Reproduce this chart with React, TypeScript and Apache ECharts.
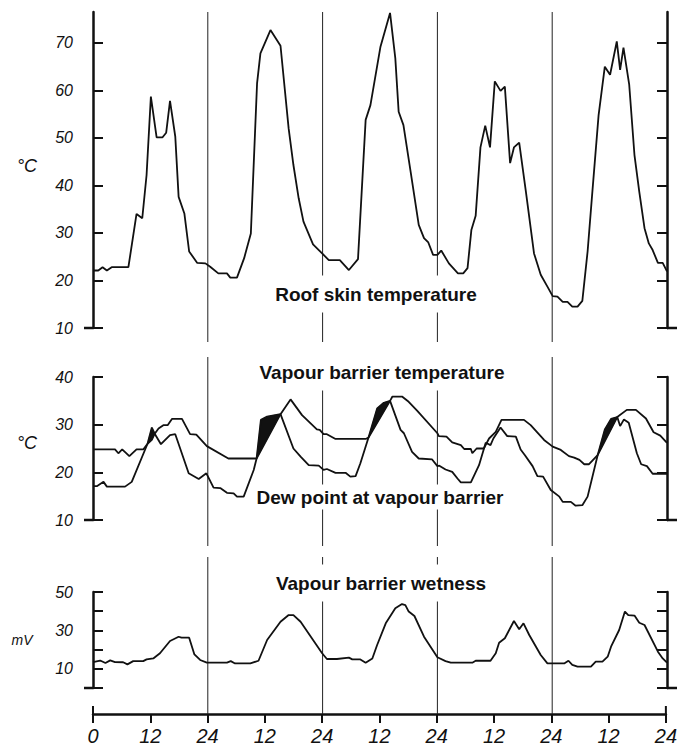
import React, { useEffect, useRef } from "react";
import * as echarts from "echarts";

// ---------- data ----------
const roofHours = [0, 1.1, 2.0, 2.9, 3.9, 7.4, 9.1, 10.3, 11.2, 12.1, 13.3, 14.5, 15.3, 16.1, 17.2, 17.9, 19.1, 20.1, 21.8, 23.5, 24.5, 26.2, 28.0, 28.7, 30.1, 31.6, 33.0, 34.3, 35.0, 37.1, 39.2, 40.9, 41.9, 43.0, 44.0, 46.0, 47.9, 49.3, 51.6, 53.5, 55.4, 57.0, 58.0, 60.1, 62.1, 63.2, 63.9, 64.9, 66.4, 68.1, 69.2, 70.1, 71.1, 72.0, 72.8, 74.4, 76.3, 77.4, 78.3, 79.1, 80.0, 81.0, 82.0, 83.0, 84.0, 85.2, 86.1, 87.2, 88.0, 89.1, 90.5, 92.2, 93.6, 95.0, 96.1, 97.1, 98.2, 99.2, 100.2, 101.3, 102.3, 103.4, 104.4, 105.7, 107.0, 108.1, 109.5, 110.2, 110.9, 112.1, 113.2, 114.2, 115.3, 116.2, 117.0, 118.1, 119.1, 120];
const roofTemp = [22.1, 22.1, 22.8, 22.1, 22.8, 22.8, 34.0, 33.1, 42.2, 58.7, 50.1, 50.1, 51.1, 57.8, 50.3, 37.6, 34.1, 26.1, 23.7, 23.6, 22.9, 21.5, 21.5, 20.6, 20.6, 24.7, 29.9, 61.5, 67.8, 72.7, 69.4, 52.0, 44.3, 37.3, 32.4, 27.6, 25.7, 24.3, 24.3, 22.2, 24.5, 53.8, 56.9, 69.2, 76.3, 66.8, 55.5, 52.7, 42.9, 31.7, 28.9, 28.0, 25.4, 25.4, 26.3, 23.6, 21.5, 21.5, 22.6, 30.6, 33.6, 48.0, 52.6, 48.0, 61.9, 59.9, 60.8, 44.7, 48.0, 49.0, 38.7, 25.7, 21.2, 18.7, 16.7, 16.6, 15.5, 15.5, 14.5, 14.5, 15.7, 26.1, 38.7, 54.8, 65.0, 63.3, 70.3, 64.3, 69.0, 61.2, 46.4, 38.7, 31.0, 27.8, 26.4, 23.7, 23.7, 21.9];

const vbHours = [0, 4.6, 5.3, 6.1, 7.6, 9.1, 10.5, 11.4, 12.3, 12.9, 13.7, 14.7, 15.6, 16.5, 18.6, 20.3, 21.6, 23.8, 28.3, 34.2, 39.2, 41.3, 43.7, 46.8, 47.4, 48.2, 48.9, 50.7, 57.0, 57.6, 62.1, 62.6, 64.6, 66.0, 67.8, 72.0, 72.3, 73.9, 75.1, 76.9, 77.6, 79.0, 79.3, 80.2, 81.7, 82.8, 84.2, 85.4, 90.1, 91.5, 94.3, 96.1, 97.8, 99.5, 100.6, 101.7, 102.7, 103.7, 105.5, 109.6, 111.6, 113.5, 115.6, 117.2, 118.6, 120];
const vbTemp = [24.8, 24.8, 24.0, 24.8, 23.4, 24.8, 24.8, 26.0, 26.8, 28.1, 29.2, 29.9, 29.9, 31.2, 31.2, 28.0, 27.9, 25.5, 22.9, 22.9, 32.2, 35.3, 32.0, 29.0, 28.9, 28.0, 28.0, 27.0, 27.0, 27.3, 35.0, 35.9, 35.9, 34.8, 32.9, 28.2, 27.6, 27.5, 26.3, 25.7, 24.9, 24.9, 24.0, 25.0, 25.0, 27.1, 28.5, 31.0, 31.0, 29.9, 26.8, 25.4, 24.7, 23.4, 23.1, 22.6, 21.7, 21.7, 23.6, 31.6, 33.1, 33.1, 31.3, 28.4, 27.7, 26.2];

const dpHours = [0, 0.8, 2.2, 2.9, 6.7, 8.1, 11.4, 12.3, 12.9, 14.2, 16.1, 17.2, 20.0, 22.1, 23.7, 25.2, 26.6, 28.0, 29.4, 30.1, 31.5, 33.6, 34.2, 35.1, 36.4, 39.2, 41.9, 43.4, 45.1, 47.2, 48.2, 48.9, 50.7, 52.8, 53.8, 54.9, 55.9, 57.6, 59.4, 60.8, 62.1, 64.3, 65.0, 66.7, 68.1, 70.9, 72.0, 72.4, 73.7, 75.1, 76.2, 76.9, 79.0, 80.7, 82.1, 83.1, 83.7, 85.2, 86.6, 88.4, 89.4, 90.3, 91.9, 92.9, 94.1, 95.7, 97.5, 98.2, 99.9, 100.9, 102.3, 103.4, 105.5, 107.0, 108.3, 109.6, 110.2, 111.0, 112.0, 113.7, 114.6, 115.8, 117.0, 120];
const dpTemp = [17.1, 17.1, 18.0, 17.0, 17.0, 18.0, 26.0, 29.4, 28.1, 25.9, 27.8, 28.0, 19.8, 18.6, 19.8, 16.8, 16.7, 15.7, 15.6, 14.9, 14.9, 20.5, 22.9, 31.0, 31.7, 32.2, 25.0, 23.3, 21.5, 21.4, 20.5, 20.7, 19.9, 19.9, 19.1, 19.2, 21.9, 27.3, 33.4, 34.6, 35.0, 28.9, 28.2, 24.3, 22.9, 22.7, 21.3, 21.4, 20.6, 20.1, 18.7, 17.9, 17.9, 21.5, 26.2, 25.7, 27.1, 29.4, 27.6, 27.5, 24.8, 23.6, 21.3, 19.2, 19.1, 16.3, 14.9, 13.8, 13.8, 13.0, 13.1, 14.9, 23.6, 29.0, 31.2, 31.6, 29.7, 31.1, 30.4, 24.0, 21.7, 21.3, 19.7, 19.7];

// periods when the dew point is above the vapour barrier temperature (hours)
const fillRanges = [[11.4, 12.9], [34.2, 39.2], [57.6, 62.1], [105.5, 109.6]];

const wetHours = [0, 1.5, 2.6, 3.6, 4.6, 6.3, 7.2, 8.4, 10.5, 11.2, 12.6, 14.0, 16.1, 17.9, 18.5, 20.1, 21.2, 22.4, 23.8, 28.0, 28.8, 29.7, 32.9, 34.6, 36.4, 39.2, 40.9, 41.9, 43.4, 47.9, 48.9, 51.0, 53.5, 54.2, 55.9, 57.0, 58.4, 59.4, 61.2, 63.2, 64.6, 65.3, 66.0, 67.2, 69.2, 72.0, 73.7, 74.8, 79.3, 80.0, 83.1, 84.2, 84.9, 86.1, 88.0, 89.1, 90.0, 91.2, 93.6, 95.0, 98.5, 99.4, 100.2, 101.3, 104.1, 105.1, 106.5, 107.6, 108.3, 110.0, 111.2, 111.9, 113.2, 114.2, 115.3, 118.1, 119.1, 120];
const wetMv = [13.5, 14.3, 13.0, 14.4, 13.5, 13.4, 12.3, 14.0, 14.0, 14.9, 15.4, 18.1, 24.5, 26.7, 26.2, 26.2, 17.5, 14.6, 13.2, 13.2, 14.0, 12.8, 12.8, 14.2, 25.0, 34.5, 38.0, 38.0, 34.5, 18.1, 15.1, 15.1, 15.8, 14.9, 14.9, 13.2, 15.4, 22.4, 33.7, 41.5, 43.7, 43.2, 39.8, 37.5, 26.7, 16.0, 14.0, 13.2, 13.2, 14.2, 14.2, 18.1, 23.6, 25.9, 34.9, 30.6, 33.7, 27.6, 17.2, 12.8, 12.8, 14.2, 12.0, 11.1, 11.1, 13.7, 13.7, 16.3, 21.5, 30.2, 39.8, 38.0, 37.7, 34.0, 32.8, 18.9, 15.4, 13.2];

const dayHours = [24, 48, 72, 96];
const xTicks = [0, 12, 24, 36, 48, 60, 72, 84, 96, 108, 120];
const xTickLabels = ["0", "12", "24", "12", "24", "12", "24", "12", "24", "12", "24"];
const roofTicks = [10, 20, 30, 40, 50, 60, 70];
const vbTicks = [10, 20, 30, 40];
const wetTicks = [0, 10, 20, 30, 40, 50];
const wetLabels = [10, 30, 50];
const titles = ["Roof skin temperature", "Vapour barrier temperature", "Dew point at vapour barrier", "Vapour barrier wetness"];
const units = ["°C", "°C", "mV"];

// ---------- layout ----------
const INK = "#111";
const LEFT = 93;
const PW = 574;
const panels = [
  { top: 12, height: 316, min: 10, max: 76.5, ticks: roofTicks, labels: roofTicks, extTop: 0, extBot: 14 },
  { top: 377, height: 143, min: 10, max: 40, ticks: vbTicks, labels: vbTicks, extTop: 20, extBot: 26 },
  { top: 592, height: 96, min: 0, max: 50, ticks: wetTicks, labels: wetLabels, extTop: 35, extBot: 26 },
];

const zip = (xs: number[], ys: number[]) => xs.map((x, i) => [x, ys[i]]);

export default function App() {
  const ref = useRef<HTMLDivElement>(null);

  useEffect(() => {
    if (!ref.current) return;
    const chart = echarts.init(ref.current, null, { renderer: "svg" });

    const grid: any[] = panels.map((p) => ({ left: LEFT, width: PW, top: p.top, height: p.height }));
    grid.push({ left: LEFT, width: PW, top: 700, height: 14 });

    const xAxis: any[] = panels.map((_, i) => ({ gridIndex: i, type: "value", min: 0, max: 120, show: false }));
    xAxis.push({
      gridIndex: 3,
      type: "value",
      min: 0,
      max: 120,
      interval: 12,
      position: "bottom",
      axisLine: { show: true, onZero: false, lineStyle: { color: INK, width: 2.5 } },
      axisTick: { show: true, length: 9, lineStyle: { color: INK, width: 2 } },
      axisLabel: {
        margin: 12,
        fontSize: 20,
        fontStyle: "italic",
        fontFamily: "Liberation Sans",
        color: INK,
        formatter: (v: number) => xTickLabels[xTicks.indexOf(v)] ?? "",
      },
      splitLine: { show: false },
    });

    const yAxis: any[] = [];
    panels.forEach((p, i) => {
      ["left", "right"].forEach((pos) => {
        yAxis.push({
          gridIndex: i,
          type: "value",
          position: pos,
          min: p.min,
          max: p.max,
          interval: 10,
          axisLine: { show: true, onZero: false, lineStyle: { color: INK, width: 2.5 } },
          axisTick: { show: true, inside: true, length: 10, customValues: p.ticks, lineStyle: { color: INK, width: 2 } },
          axisLabel: {
            show: pos === "left",
            customValues: p.labels,
            margin: 20,
            fontSize: 16,
            fontStyle: "italic",
            fontFamily: "Liberation Sans",
            color: INK,
          },
          splitLine: { show: false },
        });
      });
    });
    yAxis.push({ gridIndex: 3, type: "value", min: 0, max: 1, show: false });

    const lineStyle = { color: INK, width: 1.8 };
    const series: any[] = [];

    // day separator lines
    panels.forEach((p, i) => {
      series.push({
        type: "custom",
        xAxisIndex: i,
        yAxisIndex: i * 2,
        z: 1,
        silent: true,
        data: dayHours.map((h) => [h, p.min]),
        encode: { x: 0, y: 1 },
        renderItem: (params: any, api: any) => {
          const h = api.value(0);
          const b = api.coord([h, p.min]);
          const t = api.coord([h, p.max]);
          return {
            type: "line",
            shape: { x1: b[0], y1: t[1] - p.extTop, x2: b[0], y2: b[1] + p.extBot },
            style: { stroke: "#222", lineWidth: 1 },
          };
        },
      });
    });

    series.push({
      name: "Roof skin temperature",
      type: "line",
      xAxisIndex: 0,
      yAxisIndex: 0,
      z: 5,
      showSymbol: false,
      data: zip(roofHours, roofTemp),
      lineStyle,
    });
    series.push({
      name: "Vapour barrier temperature",
      type: "line",
      xAxisIndex: 1,
      yAxisIndex: 2,
      z: 5,
      showSymbol: false,
      data: zip(vbHours, vbTemp),
      lineStyle,
    });
    series.push({
      name: "Dew point at vapour barrier",
      type: "line",
      xAxisIndex: 1,
      yAxisIndex: 2,
      z: 5,
      showSymbol: false,
      data: zip(dpHours, dpTemp),
      lineStyle,
    });
    series.push({
      name: "Condensation",
      type: "custom",
      xAxisIndex: 1,
      yAxisIndex: 2,
      z: 4,
      silent: true,
      data: fillRanges.map((r) => [r[0], 25]),
      encode: { x: 0, y: 1 },
      renderItem: (params: any, api: any) => {
        const [a, b] = fillRanges[params.dataIndex];
        const upper = zip(dpHours, dpTemp).filter((d) => d[0] >= a && d[0] <= b);
        const lower = zip(vbHours, vbTemp).filter((d) => d[0] >= a && d[0] <= b).reverse();
        const points = [...upper, ...lower].map((d) => api.coord(d));
        return { type: "polygon", shape: { points }, style: { fill: INK, stroke: INK, lineWidth: 0.5 } };
      },
    });
    series.push({
      name: "Vapour barrier wetness",
      type: "line",
      xAxisIndex: 2,
      yAxisIndex: 4,
      z: 5,
      showSymbol: false,
      data: zip(wetHours, wetMv),
      lineStyle,
    });

    chart.setOption({
      animation: false,
      backgroundColor: "#fff",
      grid,
      xAxis,
      yAxis,
      series,
    });

    // decorations that depend on the axes' pixel positions
    const elements: any[] = [];
    const bar = { stroke: INK, lineWidth: 2.5 };
    panels.forEach((p, i) => {
      const l = chart.convertToPixel({ gridIndex: i }, [0, p.min]) as number[];
      const r = chart.convertToPixel({ gridIndex: i }, [120, p.min]) as number[];
      elements.push({ type: "line", z: 6, shape: { x1: l[0] - 9, y1: l[1], x2: l[0], y2: l[1] }, style: bar });
      elements.push({ type: "line", z: 6, shape: { x1: r[0], y1: r[1], x2: r[0] + 10, y2: r[1] }, style: bar });
    });
    const b0 = chart.convertToPixel({ gridIndex: 3 }, [0, 0]) as number[];
    const b1 = chart.convertToPixel({ gridIndex: 3 }, [120, 0]) as number[];
    elements.push({ type: "line", z: 6, shape: { x1: b0[0], y1: b0[1] - 8, x2: b0[0], y2: b0[1] }, style: { stroke: INK, lineWidth: 2 } });
    elements.push({ type: "line", z: 6, shape: { x1: b1[0], y1: b1[1] - 8, x2: b1[0], y2: b1[1] }, style: { stroke: INK, lineWidth: 2 } });

    const titlePos = [
      { x: 376, y: 294, pad: [9, 4] },
      { x: 382, y: 372, pad: [9, 4] },
      { x: 380, y: 497, pad: [3, 4] },
      { x: 381, y: 583, pad: [9, 4] },
    ];
    titles.forEach((t, i) => {
      elements.push({
        type: "text",
        z: 2,
        style: {
          text: t,
          x: titlePos[i].x,
          y: titlePos[i].y,
          align: "center",
          verticalAlign: "middle",
          font: 'bold 19px "Liberation Sans", Arial, sans-serif',
          fill: INK,
          backgroundColor: "#fff",
          padding: titlePos[i].pad,
        },
      });
    });
    const unitPos = [
      { x: 27, y: 166, size: 18 },
      { x: 27, y: 443, size: 18 },
      { x: 22, y: 640, size: 14 },
    ];
    units.forEach((u, i) => {
      elements.push({
        type: "text",
        z: 6,
        style: {
          text: u,
          x: unitPos[i].x,
          y: unitPos[i].y,
          align: "center",
          verticalAlign: "middle",
          font: `italic ${unitPos[i].size}px "Liberation Sans", sans-serif`,
          fill: INK,
        },
      });
    });

    chart.setOption({ graphic: { elements } });

    return () => chart.dispose();
  }, []);

  return (
    <div
      ref={ref}
      style={{ position: "fixed", left: 0, top: 0, width: 680, height: 752, background: "#fff" }}
    />
  );
}
